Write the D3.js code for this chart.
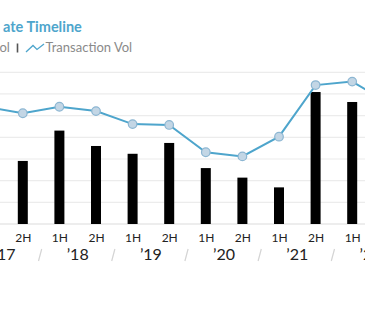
<!DOCTYPE html>
<html><head><meta charset="utf-8">
<script src="https://cdn.jsdelivr.net/npm/d3@7"></script>
<style>
html,body{margin:0;padding:0;background:#fff;overflow:hidden;}
svg{display:block;font-family:Lato,"Open Sans",sans-serif;}
</style></head>
<body>
<svg id="chart" width="365" height="330"></svg>
<script>
// Data (chart is cropped at left and right in the reference)
const categories = ["1H '17","2H '17","1H '18","2H '18","1H '19","2H '19","1H '20","2H '20","1H '21","2H '21","1H '22","2H '22"];
const halfLabels = ["1H","2H","1H","2H","1H","2H","1H","2H","1H","2H","1H","2H"];
const years = ["\u201917","\u201918","\u201919","\u201920","\u201921","\u201922"];
const barValues = [30, 29.1, 43.1, 36, 32.4, 37.4, 25.8, 21.4, 16.9, 60.9, 56.3, 50];
const lineValues = [54, 51.1, 54.1, 52.1, 46.1, 45.7, 33.1, 31.2, 40.3, 64.1, 65.7, 55.8];
const yTicks = [0,10,20,30,40,50,60,70];
const titleText = "ate Timeline";
const legendLeft = "ol";
const legendRight = "Transaction Vol";

const W = 365;
const svg = d3.select("#chart");
const baseY = 224, topY = 72.3;
const x = d3.scalePoint().domain(categories).range([22.8 - 36.6, 22.8 + 10*36.6]);
const y = d3.scaleLinear().domain([0,70]).range([baseY, topY]);

// gridlines
svg.append("g").selectAll("line").data(yTicks).join("line")
  .attr("x1",0).attr("x2",W)
  .attr("y1",d=>y(d)).attr("y2",d=>y(d))
  .attr("stroke", d=> d===0 ? "#dcdcdc" : "#ececec").attr("stroke-width",1.2);

// bars
const bw = 10;
svg.append("g").selectAll("rect").data(categories).join("rect")
  .attr("x",(d)=>x(d)-bw/2).attr("width",bw)
  .attr("y",(d,i)=>y(barValues[i])).attr("height",(d,i)=>baseY-y(barValues[i]))
  .attr("fill","#000");

// line
const line = d3.line().x((d,i)=>x(categories[i])).y(d=>y(d));
svg.append("path").datum(lineValues).attr("d",line)
  .attr("fill","none").attr("stroke","#4ea5cc").attr("stroke-width",2);
svg.append("g").selectAll("circle").data(lineValues).join("circle")
  .attr("cx",(d,i)=>x(categories[i])).attr("cy",d=>y(d)).attr("r",4.3)
  .attr("fill","#c3d6e5").attr("stroke","#8cb6d2").attr("stroke-width",1.2);

// x axis half labels (only those inside the visible frame)
const visibleCats = categories.filter(c => x(c) > 0 && x(c) < W);
const ax = d3.axisBottom(x).tickValues(visibleCats).tickSize(0).tickPadding(0)
  .tickFormat(d=>halfLabels[categories.indexOf(d)]);
const axG = svg.append("g").attr("transform",`translate(0,${baseY})`).call(ax);
axG.select(".domain").remove();
axG.selectAll("text").attr("dy",null).attr("y",17.7)
  .attr("font-family","Lato,'Open Sans',sans-serif").attr("font-size",12).attr("fill","#222");

// year labels centred between halves
const yearG = svg.append("g");
years.forEach((yr,k)=>{
  const cx = (x(categories[2*k]) + x(categories[2*k+1]))/2;
  yearG.append("text").attr("x",cx).attr("y",260).attr("text-anchor","middle")
    .attr("font-size",16).attr("fill","#222").text(yr);
  if(k>0){
    const sx = (x(categories[2*k-1]) + x(categories[2*k]))/2 - 1;
    yearG.append("line").attr("x1",sx+1.6).attr("x2",sx-1.6).attr("y1",249).attr("y2",261)
      .attr("stroke","#d4d4d4").attr("stroke-width",1.2);
  }
});

// title and legend
svg.append("text").attr("x",3).attr("y",32).attr("font-size",14.5).attr("font-weight","bold")
  .attr("fill","#4ea5cc").text(titleText);
svg.append("text").attr("x",-0.5).attr("y",52).attr("font-size",13).attr("fill","#8a8a8a").text(legendLeft);
svg.append("line").attr("x1",17.5).attr("x2",17.5).attr("y1",43.5).attr("y2",52.5)
  .attr("stroke","#555").attr("stroke-width",1.6);
svg.append("path").attr("d","M26,52 L33,45.5 L37,49.5 L44,44")
  .attr("fill","none").attr("stroke","#4ea5cc").attr("stroke-width",1.3);
svg.append("text").attr("x",45.5).attr("y",52).attr("font-size",13).attr("fill","#8a8a8a").text(legendRight);
</script>
</body></html>
